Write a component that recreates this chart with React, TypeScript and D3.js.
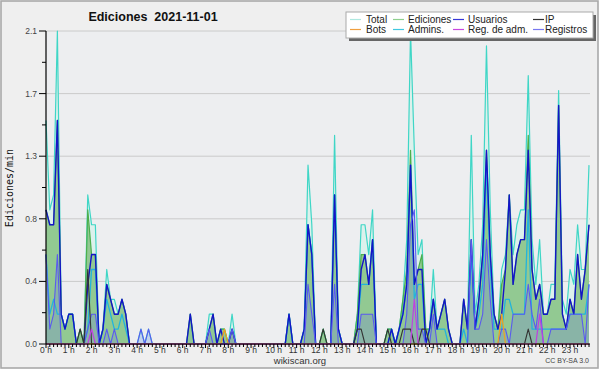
import React from "react";
import * as d3 from "d3";

// 10-minute bins, 144 per day; values in edits per minute
const hourLabels = Array.from({ length: 24 }, (_, h) => `${h} h`);
const yTickLabels = ["0.0", "0.4", "0.8", "1.3", "1.7", "2.1"];

const total = [
  1.5,0.9,1.0,2.1,0.2,0.1,0.2,0.2,0,0.1,0,1.0,
  0.8,0.8,0,0.1,0.5,0.3,0.3,0.2,0.3,0.2,0,0,
  0,0.1,0,0.1,0,0,0,0,0,0,0,0,
  0,0,0.2,0,0,0,0,0.2,0.2,0,0.1,0.1,
  0,0.2,0,0,0,0,0,0,0,0,0,0,
  0,0,0,0,0.2,0,0,0,0.1,1.2,0.8,0,
  0,0.1,0,0,1.4,0.1,0,0,0,0,0.2,0.8,
  0.8,0.6,0.9,0,0,0,0.1,0.1,0,0.1,0.3,0.7,
  2.1,1.3,0.6,0.7,0.1,0.1,0.5,0.1,0.2,0.3,0.1,0,
  0,0,0.3,0.1,1.4,0.2,0.4,0.8,2.0,0.9,0.2,0.1,
  0.5,0.6,1.0,0.6,0.8,0.9,0.9,1.8,0.7,0.4,0.7,0.2,
  0.2,0.4,0.4,1.7,0.3,0.2,0.5,0.4,0.8,0.5,0.5,1.2,
];
const ediciones = [
  0.9,0.8,0.8,1.5,0.2,0.1,0.2,0.2,0,0.1,0,0.9,
  0.6,0.6,0,0.1,0.4,0.3,0.2,0.2,0.3,0.2,0,0,
  0,0,0,0,0,0,0,0,0,0,0,0,
  0,0,0.2,0,0,0,0,0.1,0.2,0,0.1,0.1,
  0,0.1,0,0,0,0,0,0,0,0,0,0,
  0,0,0,0,0.2,0,0,0,0.1,0.8,0.6,0,
  0,0.1,0,0,1.0,0.1,0,0,0,0,0.2,0.6,
  0.6,0.4,0.7,0,0,0,0.1,0.1,0,0.1,0.3,0.5,
  1.3,0.4,0.5,0.6,0.1,0.1,0.3,0.1,0.2,0.3,0.1,0,
  0,0,0.3,0.1,0.7,0.1,0.3,0.6,1.3,0.6,0.2,0.1,
  0.4,0.5,1.0,0.4,0.6,0.7,0.7,1.4,0.5,0.3,0.4,0.2,
  0.2,0.3,0.3,1.6,0.2,0.1,0.3,0.2,0.6,0.3,0.5,0.8,
];
const usuarios = [
  0.9,0.8,0.8,1.5,0.2,0.1,0.2,0.2,0,0,0,0.4,
  0.6,0.6,0,0.1,0.4,0.3,0.2,0.2,0.3,0.2,0,0,
  0,0,0,0,0,0,0,0,0,0,0,0,
  0,0,0.2,0,0,0,0,0.1,0.2,0,0.1,0,
  0,0.1,0,0,0,0,0,0,0,0,0,0,
  0,0,0,0,0.2,0,0,0,0.1,0.8,0.6,0,
  0,0,0,0,1.0,0.1,0,0,0,0,0.1,0.5,
  0.6,0.4,0.7,0,0,0,0,0.1,0,0.1,0.2,0.4,
  1.2,0.4,0.5,0.5,0,0.1,0.3,0.1,0.2,0.3,0.1,0,
  0,0,0.3,0.1,0.7,0.1,0.3,0.6,1.3,0.6,0.2,0.1,
  0.2,0.5,1.0,0.4,0.6,0.7,0.7,1.3,0.5,0.3,0.4,0.2,
  0.2,0.3,0.3,1.6,0.2,0.1,0.3,0.2,0.6,0.3,0.5,0.8,
];
const ip = [
  0,0,0,0,0,0,0,0,0,0.1,0,0.5,
  0,0,0,0,0,0,0,0,0,0,0,0,
  0,0,0,0,0,0,0,0,0,0,0,0,
  0,0,0,0,0,0,0,0,0,0,0,0,
  0,0,0,0,0,0,0,0,0,0,0,0,
  0,0,0,0,0,0,0,0,0,0,0,0,
  0,0.1,0,0,0,0,0,0,0,0,0.1,0.1,
  0,0,0,0,0,0,0.1,0,0,0,0.1,0.1,
  0.1,0,0,0.1,0.1,0,0,0,0,0,0,0,
  0,0,0,0,0,0,0,0,0,0,0,0,
  0,0,0,0,0,0,0,0.1,0,0,0,0,
  0,0,0,0,0,0,0,0,0,0,0,0,
];
const bots = [
  0,0,0,0,0,0,0,0,0,0,0,0,
  0,0,0,0,0,0,0,0,0,0,0,0,
  0,0,0,0,0,0,0,0,0,0,0,0,
  0,0,0,0,0,0,0,0,0,0,0,0.1,
  0,0,0,0,0,0,0,0,0,0,0,0,
  0,0,0,0,0,0,0,0,0,0,0,0,
  0,0,0,0,0,0,0,0,0,0,0,0,
  0,0,0,0,0,0,0,0,0,0,0,0,
  0,0,0,0,0,0,0,0,0,0,0,0,
  0,0,0,0,0,0,0,0,0,0,0,0,
  0.2,0,0,0,0,0,0,0,0,0,0,0,
  0,0,0,0,0,0,0,0,0,0,0,0,
];
const admins = [
  0.6,0.2,0.3,0.2,0.2,0.1,0.2,0.2,0,0,0,0.1,
  0.5,0.5,0,0.1,0.3,0.2,0.1,0.1,0.2,0.1,0,0,
  0,0,0,0,0,0,0,0,0,0,0,0,
  0,0,0,0,0,0,0,0,0,0,0,0,
  0,0,0,0,0,0,0,0,0,0,0,0,
  0,0,0,0,0.2,0,0,0,0.1,0.8,0.6,0,
  0,0,0,0,1.0,0.1,0,0,0,0,0.1,0.4,
  0.4,0.4,0.7,0,0,0,0,0.1,0,0.1,0.2,0.4,
  1.2,0.3,0.4,0.4,0,0.1,0.3,0.1,0.1,0.1,0,0,
  0,0,0.1,0,0.6,0.1,0.2,0.4,1.2,0.5,0.1,0.1,
  0.1,0.3,0.3,0.2,0.2,0.2,0.2,0.9,0.1,0.1,0.1,0.1,
  0.1,0.1,0.1,0.1,0.1,0.1,0.2,0.2,0.2,0.2,0.2,0.4,
];
const regAdm = [
  0,0,0,0,0,0,0,0,0,0,0,0,
  0.1,0,0,0,0,0,0,0,0,0,0,0,
  0,0,0,0,0,0,0,0,0,0,0,0,
  0,0,0,0,0,0,0,0,0,0,0,0,
  0,0,0,0,0,0,0,0,0,0,0,0,
  0,0,0,0,0,0,0,0,0,0,0,0,
  0,0,0,0,0,0,0,0,0,0,0,0,
  0,0,0,0,0,0,0,0,0,0,0,0,
  0,0.3,0,0,0,0,0,0,0,0,0,0,
  0,0,0,0,0,0,0,0,0,0,0,0,
  0,0,0,0,0,0,0,0,0,0,0.2,0,
  0,0,0,0,0,0,0,0,0,0,0,0,
];
const registros = [
  0.6,0.1,0.2,0.6,0,0,0,0,0,0,0,0.1,
  0.2,0.2,0,0,0.1,0,0.1,0,0,0,0,0,
  0,0.1,0,0.1,0,0,0,0,0,0,0,0,
  0,0,0,0,0,0,0,0.1,0,0,0,0,
  0,0.1,0,0,0,0,0,0,0,0,0,0,
  0,0,0,0,0,0,0,0,0,0.4,0.2,0,
  0,0,0,0,0.4,0,0,0,0,0,0,0.2,
  0.2,0.2,0.2,0,0,0,0,0,0,0,0,0.2,
  0.8,0.9,0.1,0.1,0,0,0.2,0,0,0,0,0,
  0,0,0,0,0.7,0.1,0.1,0.2,0.7,0.3,0,0,
  0.1,0.1,0,0.2,0.2,0.2,0.2,0.4,0.2,0.1,0.3,0,
  0,0.1,0.1,0.1,0.1,0.1,0.2,0.2,0.2,0.2,0,0.4,
];

const seriesLines = [
  { name: "Total", data: total, color: "#3fd6c6", width: 1.2 },
  { name: "Ediciones", data: ediciones, color: "#4caf4c", width: 1.2 },
  { name: "Admins.", data: admins, color: "#22b4dc", width: 1.3 },
  { name: "Usuarios", data: usuarios, color: "#1414c8", width: 1.4 },
  { name: "Registros", data: registros, color: "#5a5af0", width: 1.1 },
  { name: "IP", data: ip, color: "#333333", width: 1.1 },
  { name: "Bots", data: bots, color: "#f0a020", width: 1.2 },
  { name: "Reg. de adm.", data: regAdm, color: "#c040e0", width: 1.2 },
];

const legendRows = [
  [
    { name: "Total", color: "#aee8e0" },
    { name: "Ediciones", color: "#8fd08f" },
    { name: "Usuarios", color: "#3838d8" },
    { name: "IP", color: "#333333" },
  ],
  [
    { name: "Bots", color: "#f0a040" },
    { name: "Admins.", color: "#40c8e0" },
    { name: "Reg. de adm.", color: "#c848e0" },
    { name: "Registros", color: "#7878f0" },
  ],
];

export default function App() {
  const W = 600, H = 370;
  const x0 = 46, x1 = 589, y0 = 344, y1 = 31;
  const x = d3.scaleLinear().domain([0, 143]).range([x0, x1]);
  const y = d3.scaleLinear().domain([0, 2.1]).range([y0, y1]);
  const idx = d3.range(144);
  const line = (data: number[]) =>
    d3.line<number>().x((i) => x(i)).y((i) => y(data[i]))(idx) || "";
  const area = (data: number[]) =>
    d3.area<number>().x((i) => x(i)).y0(y(0)).y1((i) => y(data[i]))(idx) || "";
  const majors = d3.range(6).map((k) => (2.1 * k) / 5);
  const minors = d3.range(5).map((k) => (2.1 * (k + 0.5)) / 5);
  const font = "'Liberation Sans', Arial, sans-serif";
  const legendCols = [350, 393, 453, 533];
  const legendText = [366, 408, 468, 545];

  return (
    <svg width={W} height={H} style={{ position: "absolute", left: 0, top: 0 }}>
      <rect x={1} y={1} width={W - 3} height={H - 3} fill="#efefef" stroke="#a9a9a9" strokeWidth={1.6} />
      <rect x={x0} y={y1} width={590 - x0} height={y0 - y1} fill="#edeef0" />
      {majors.map((v, k) => (
        <line key={"g" + k} x1={x0} x2={590} y1={y(v)} y2={y(v)} stroke="#cacaca" strokeWidth={1} />
      ))}
      <path d={area(total)} fill="#dcf1ec" />
      <path d={area(ediciones)} fill="#92c992" />
      <path d={area(registros)} fill="#6a6af0" fillOpacity={0.22} />
      {seriesLines.map((s) => (
        <path key={s.name} d={line(s.data)} fill="none" stroke={s.color} strokeWidth={s.width} strokeLinejoin="round" />
      ))}
      {/* axes */}
      <line x1={x0} x2={x0} y1={y1} y2={y0} stroke="#000" strokeWidth={1.2} />
      <line x1={x0} x2={590} y1={y0} y2={y0} stroke="#000" strokeWidth={1.2} />
      {majors.map((v, k) => (
        <g key={"yt" + k}>
          <line x1={39} x2={x0} y1={y(v)} y2={y(v)} stroke="#000" />
          <text x={37} y={y(v) + 3} fontSize={8.5} textAnchor="end" fill="#444" fontFamily={font}>
            {yTickLabels[k]}
          </text>
        </g>
      ))}
      {minors.map((v, k) => (
        <line key={"ym" + k} x1={42} x2={x0} y1={y(v)} y2={y(v)} stroke="#000" />
      ))}
      {idx.map((i) => (
        <line key={"xt" + i} x1={x(i)} x2={x(i)} y1={y0} y2={y0 + (i % 6 === 0 ? 4 : 3)} stroke="#000" />
      ))}
      {hourLabels.map((lab, h) => (
        <text key={"xl" + h} x={x(h * 6)} y={353} fontSize={8.5} textAnchor="middle" fill="#333" fontFamily={font}>
          {lab}
        </text>
      ))}
      <text
        x={10}
        y={188}
        transform="rotate(-90 10 188)"
        fontSize={10}
        textAnchor="middle"
        dominantBaseline="middle"
        fontFamily="'DejaVu Sans Mono', monospace"
        fill="#111"
      >
        Ediciones/min
      </text>
      <text x={153} y={21} fontSize={12.5} fontWeight="bold" textAnchor="middle" fontFamily={font} fill="#111" style={{ whiteSpace: "pre" }}>
        {"Ediciones  2021-11-01"}
      </text>
      <text x={300} y={364} fontSize={9.5} textAnchor="middle" fontFamily={font} fill="#333">
        wikiscan.org
      </text>
      <text x={589} y={363} fontSize={7} textAnchor="end" fontFamily={font} fill="#444">
        CC BY-SA 3.0
      </text>
      {/* legend */}
      <rect x={349} y={15} width={247} height={26} fill="#666" />
      <rect x={346} y={12} width={247} height={26} fill="#fff" stroke="#aaa" strokeWidth={1} />
      {legendRows.map((row, r) =>
        row.map((it, c) => (
          <g key={it.name}>
            <line
              x1={legendCols[c]}
              x2={legendCols[c] + 11}
              y1={19.5 + r * 10}
              y2={19.5 + r * 10}
              stroke={it.color}
              strokeWidth={1.2}
            />
            <text x={legendText[c]} y={23 + r * 10} fontSize={10} fontFamily={font} fill="#222">
              {it.name}
            </text>
          </g>
        ))
      )}
    </svg>
  );
}
